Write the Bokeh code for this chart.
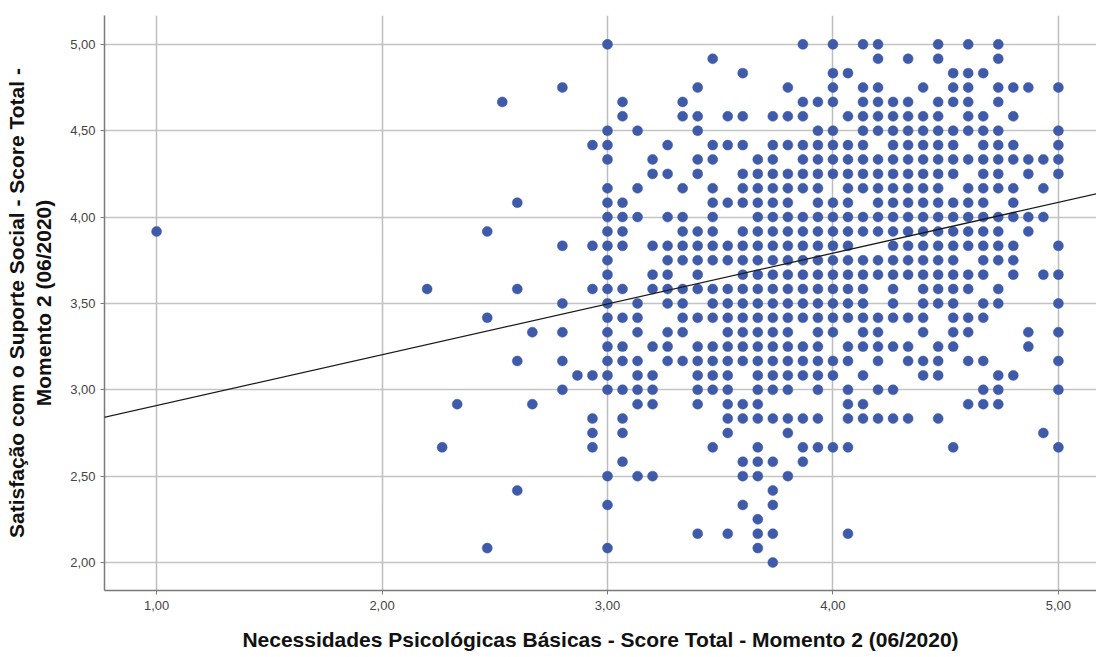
from bokeh.plotting import figure
from bokeh.models import Range1d, FixedTicker, Slope, ColumnDataSource
from bokeh.embed import file_html
from bokeh.resources import INLINE

# Scores are item means: x in steps of 1/15, y in steps of 1/12.
X_DEN = 15
Y_DEN = 12

# For each y level (numerator over 12), the x numerators (over 15) of observed points
y60 = [45, 58, 60, 62, 63, 67, 69, 71]
y59 = [52, 63, 65, 67, 71]
y58 = [54, 60, 61, 68, 69, 70]
y57 = [42, 51, 57, 60, 62, 63, 66, 68, 69, 71, 72, 73, 75]
y56 = [38, 46, 50, 58, 59, 60, 62, 63, 64, 65, 67, 68, 69, 71]
y55 = [46, 50, 51, 53, 54, 56, 57, 58, 61, 62, 63, 64, 65, 66, 67, 69, 70, 72]
y54 = [45, 47, 51, 59, 60, 62, 63, 64, 65, 66, 67, 68, 69, 70, 71, 75]
y53 = [44, 45, 49, 52, 53, 54, 56, 57, 58, 59, 60, 61, 62, 64, 65, 66, 67, 68, 70, 71, 72, 75]
y52 = [45, 48, 51, 52, 55, 56, 58, 59, 60, 61, 62, 63, 64, 65, 66, 67, 68, 69, 70, 71, 72, 73, 74, 75]
y51 = [48, 49, 51, 54, 55, 56, 57, 58, 59, 60, 61, 62, 63, 64, 65, 66, 67, 68, 70, 71, 73, 75]
y50 = [45, 47, 50, 52, 54, 55, 56, 57, 58, 59, 61, 62, 63, 64, 65, 66, 67, 69, 70, 71, 72, 74]
y49 = [39, 45, 46, 52, 53, 54, 55, 56, 57, 59, 60, 61, 63, 64, 65, 66, 67, 68, 69, 70, 72]
y48 = [45, 46, 47, 49, 50, 52, 55, 56, 57, 58, 59, 60, 61, 62, 63, 64, 65, 66, 67, 68, 69, 70, 71, 72, 73, 74]
y47 = [15, 37, 45, 46, 50, 51, 52, 54, 55, 56, 57, 58, 59, 60, 61, 62, 63, 64, 65, 66, 67, 68, 69, 70, 71, 73]
y46 = [42, 44, 45, 46, 48, 49, 50, 51, 52, 53, 54, 55, 56, 57, 58, 59, 60, 61, 64, 65, 66, 67, 68, 69, 70, 71, 72, 75]
y45 = [45, 49, 50, 51, 52, 53, 54, 55, 56, 57, 58, 59, 60, 61, 62, 63, 64, 65, 66, 67, 68, 70, 71, 72]
y44 = [45, 48, 49, 51, 54, 55, 56, 57, 58, 59, 60, 61, 62, 63, 64, 65, 66, 67, 68, 69, 70, 72, 74, 75]
y43 = [33, 39, 44, 45, 46, 48, 49, 50, 51, 52, 53, 54, 55, 56, 57, 58, 59, 60, 61, 62, 64, 66, 67, 68, 69, 71]
y42 = [42, 45, 47, 49, 50, 52, 53, 54, 55, 56, 57, 58, 59, 60, 61, 62, 64, 66, 67, 68, 70, 71, 75]
y41 = [37, 45, 46, 47, 50, 51, 52, 53, 54, 55, 56, 57, 58, 59, 60, 61, 62, 63, 64, 65, 66, 68, 69, 70]
y40 = [40, 42, 45, 47, 49, 50, 53, 54, 55, 56, 57, 59, 60, 62, 63, 66, 68, 69, 73, 75]
y39 = [45, 46, 48, 49, 51, 52, 53, 54, 55, 56, 57, 58, 59, 61, 62, 63, 64, 65, 67, 68, 73]
y38 = [39, 42, 45, 46, 47, 49, 50, 51, 52, 53, 54, 55, 56, 57, 58, 59, 60, 61, 63, 65, 66, 67, 69, 70, 75]
y37 = [43, 44, 45, 47, 48, 51, 52, 53, 55, 56, 57, 58, 59, 60, 62, 66, 67, 71, 72]
y36 = [42, 45, 46, 47, 48, 51, 52, 53, 55, 56, 57, 59, 61, 63, 64, 70, 71, 75]
y35 = [35, 40, 47, 48, 51, 53, 54, 55, 61, 62, 69, 70, 71]
y34 = [44, 46, 53, 54, 55, 56, 57, 58, 59, 61, 62, 63, 64, 65, 67]
y33 = [44, 46, 53, 57, 74]
y32 = [34, 44, 52, 55, 58, 59, 60, 61, 68, 75]
y31 = [46, 54, 55, 56, 58]
y30 = [45, 47, 48, 54, 55, 57]
y29 = [39, 56]
y28 = [45, 54, 56]
y27 = [55]
y26 = [51, 53, 55, 56, 61]
y25 = [37, 45, 55]
y24 = [56]

rows = [
    (60, y60), (59, y59), (58, y58), (57, y57), (56, y56), (55, y55), (54, y54),
    (53, y53), (52, y52), (51, y51), (50, y50), (49, y49), (48, y48), (47, y47),
    (46, y46), (45, y45), (44, y44), (43, y43), (42, y42), (41, y41), (40, y40),
    (39, y39), (38, y38), (37, y37), (36, y36), (35, y35), (34, y34), (33, y33),
    (32, y32), (31, y31), (30, y30), (29, y29), (28, y28), (27, y27), (26, y26),
    (25, y25), (24, y24),
]

# Linear fit line
fit_slope = 0.294
fit_intercept = 2.615

x_ticks = [1.0, 2.0, 3.0, 4.0, 5.0]
x_tick_labels = ["1,00", "2,00", "3,00", "4,00", "5,00"]
y_ticks = [2.0, 2.5, 3.0, 3.5, 4.0, 4.5, 5.0]
y_tick_labels = ["2,00", "2,50", "3,00", "3,50", "4,00", "4,50", "5,00"]

x_title = "Necessidades Psicológicas Básicas - Score Total - Momento 2 (06/2020)"
y_title = "Satisfação com o Suporte Social - Score Total -\nMomento 2 (06/2020)"

xs, ys = [], []
for yn, xlist in rows:
    for xn in xlist:
        xs.append(xn / X_DEN)
        ys.append(yn / Y_DEN)
src = ColumnDataSource(dict(x=xs, y=ys))

p = figure(width=1096, height=657,
           x_range=Range1d(0.769, 5.169), y_range=Range1d(1.838, 5.167),
           output_backend="svg", toolbar_location=None,
           min_border_left=104, min_border_top=15, min_border_right=0, min_border_bottom=67)
p.outline_line_color = None
p.background_fill_color = "white"
p.border_fill_color = "white"

p.xaxis.ticker = FixedTicker(ticks=x_ticks)
p.yaxis.ticker = FixedTicker(ticks=y_ticks)
p.xaxis.major_label_overrides = {t: l for t, l in zip(x_ticks, x_tick_labels)}
p.yaxis.major_label_overrides = {t: l for t, l in zip(y_ticks, y_tick_labels)}

for ax in (p.xaxis, p.yaxis):
    ax.axis_line_color = "#7a7a7a"
    ax.axis_line_width = 1.5
    ax.major_tick_line_color = "#7a7a7a"
    ax.major_tick_out = 4
    ax.major_tick_in = 0
    ax.minor_tick_line_color = None
    ax.major_label_text_font = "Liberation Sans"
    ax.major_label_text_font_size = "13px"
    ax.major_label_text_color = "#444444"
    ax.axis_label_text_font = "Liberation Sans"
    ax.axis_label_text_font_style = "bold"
    ax.axis_label_text_font_size = "21px"
    ax.axis_label_text_color = "#111111"

p.xaxis.axis_label = x_title
p.yaxis.axis_label = y_title
p.xaxis.major_label_standoff = 6
p.yaxis.major_label_standoff = 5
p.xaxis.axis_label_standoff = 15
p.yaxis.axis_label_standoff = 12

p.xgrid.grid_line_color = "#bdbdbd"
p.ygrid.grid_line_color = "#c4c4c4"
p.xgrid.grid_line_width = 1.5
p.ygrid.grid_line_width = 1.5

p.scatter("x", "y", source=src, size=10, fill_color="#3E5AA8", line_color="#3E5AA8", line_width=0.5)

p.add_layout(Slope(gradient=fit_slope, y_intercept=fit_intercept, line_color="#1a1a1a", line_width=1.3))

open("out.html", "w").write(file_html(p, INLINE))
